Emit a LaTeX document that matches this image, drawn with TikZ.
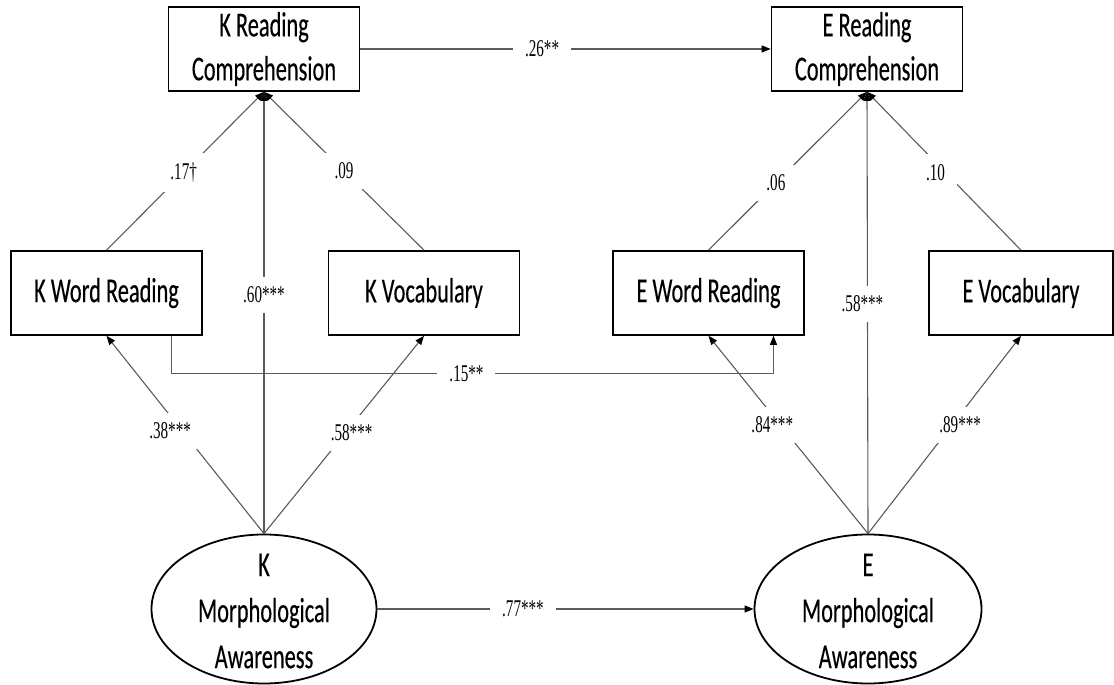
\documentclass[tikz,border=0pt]{standalone}
\usepackage{fontspec}
\usetikzlibrary{arrows.meta,shapes.geometric,calc}
\newfontfamily\boxfont[FakeStretch=0.64,FakeBold=0.3]{Carlito}
\newfontfamily\lblfont[FakeStretch=0.63]{Liberation Serif}
\definecolor{linegray}{HTML}{5A5A5A}
\tikzset{
  varbox/.style={draw=black, line width=1.6bp, rectangle, minimum width=191bp,
    minimum height=84bp, inner sep=0pt, align=center,
    font=\boxfont\fontsize{35bp}{44bp}\selectfont},
  latent/.style={draw=black, line width=1.8bp, ellipse, minimum width=225bp,
    minimum height=149bp, inner sep=0pt},
  latenttext/.style={align=center, inner sep=0pt,
    font=\boxfont\fontsize{35bp}{46bp}\selectfont},
  path/.style={draw=linegray, line width=1.1bp,
    -{Triangle[length=9bp,width=7bp,color=black]}},
  coef/.style={fill=white, inner xsep=12bp, inner ysep=10bp,
    font=\lblfont\fontsize{24bp}{26bp}\selectfont}
}
\begin{document}
\begin{tikzpicture}[x=1bp,y=-1bp]
\useasboundingbox (0,0) rectangle (1114,685);

% observed variables
\node[varbox] (krc) at (264,49) {K Reading\\Comprehension};
\node[varbox] (erc) at (867,49) {E Reading\\Comprehension};
\node[varbox] (kwr) at (106.5,293) {K Word Reading};
\node[varbox] (kvoc) at (424,293) {K Vocabulary};
\node[varbox] (ewr) at (708.5,293) {E Word Reading};
\node[varbox, minimum width=184bp] (evoc) at (1021,293) {E Vocabulary};

% latent variables
\node[latent] (kma) at (264,609) {};
\node[latenttext] (kmatext) at (264,611) {K\\Morphological\\Awareness};
\node[latent, minimum width=227bp] (ema) at (868,609) {};
\node[latenttext] (ematext) at (868,611) {E\\Morphological\\Awareness};

% cross-language paths
\draw[path] (krc.east) -- node[coef, pos=0.443] {.26**} (erc.west);
\draw[path] (kma.east) -- node[coef, pos=0.387] {.77***} (ema.west);

\coordinate (kwrout) at ($(kwr.south)+(65,0)$);
\coordinate (ewrin) at ($(ewr.south)+(65,0)$);
\coordinate (kturn) at ($(kwrout)+(0,38)$);
\draw[path] (kwrout) -- (kturn) -- node[coef, pos=0.49] {.15**} (kturn -| ewrin) -- (ewrin);

% Korean paths
\draw[path] (kma.north) -- node[coef, pos=0.54] {.60***} (krc.south);
\draw[path] (kma.north) -- node[coef, pos=0.52, xshift=-12bp] {.38***} (kwr.south);
\draw[path] (kma.north) -- node[coef, pos=0.51, xshift=6bp] {.58***} (kvoc.south);
\draw[path] (kwr.north) -- node[coef, pos=0.49] {.17†} (krc.south);
\draw[path] (kvoc.north) -- node[coef, pos=0.5] {.09} (krc.south);

% English paths
\draw[path] (ema.north) -- node[coef, pos=0.52, xshift=-5bp] {.58***} (erc.south);
\draw[path] (ema.north) -- node[coef, pos=0.55, xshift=-8bp] {.84***} (ewr.south);
\draw[path] (ema.north) -- node[coef, pos=0.55, xshift=8bp] {.89***} (evoc.south);
\draw[path] (ewr.north) -- node[coef, pos=0.425] {.06} (erc.south);
\draw[path] (evoc.north) -- node[coef, pos=0.49, xshift=-10bp] {.10} (erc.south);
\end{tikzpicture}
\end{document}
